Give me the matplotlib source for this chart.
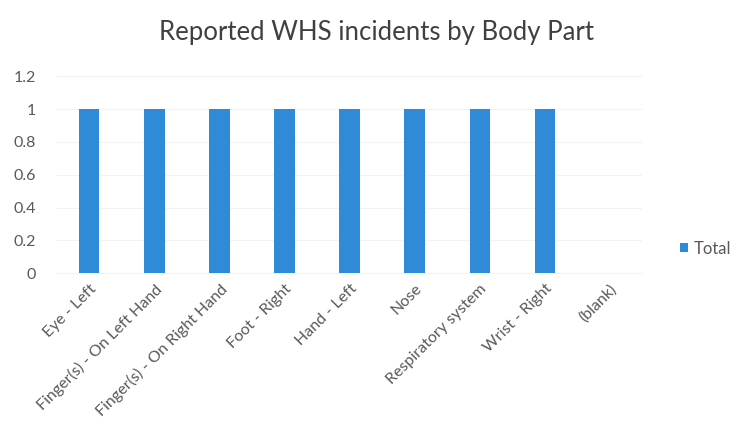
import matplotlib.pyplot as plt
import numpy as np

# Incident counts by body part
body_parts = [
    "Eye - Left",
    "Finger(s) - On Left Hand",
    "Finger(s) - On Right Hand",
    "Foot - Right",
    "Hand - Left",
    "Nose",
    "Respiratory system",
    "Wrist - Right",
    "(blank)",
]
totals = [1, 1, 1, 1, 1, 1, 1, 1, 0]
y_ticks = [0, 0.2, 0.4, 0.6, 0.8, 1, 1.2]
y_tick_labels = ["0", "0.2", "0.4", "0.6", "0.8", "1", "1.2"]

plt.rcParams["font.family"] = ["Lato", "DejaVu Sans"]

fig = plt.figure(figsize=(7.39, 4.48), dpi=100, facecolor="white")
ax = fig.add_axes([0.077, 0.39, 0.792, 0.44])

x = np.arange(len(body_parts))
ax.bar(x, totals, width=0.31, color="#2F8AD8", label="Total", zorder=3)

ax.set_xlim(-0.5, len(body_parts) - 0.5)
ax.set_ylim(0, 1.2)
ax.set_yticks(y_ticks)
ax.set_yticklabels(y_tick_labels)
ax.set_xticks(x)
ax.set_xticklabels(body_parts, rotation=45, ha="right", rotation_mode="anchor")

ax.tick_params(axis="both", length=0, colors="#595959", labelsize=11.5)
ax.tick_params(axis="y", pad=15)
ax.tick_params(axis="x", pad=6)
ax.grid(True, axis="y", color="#f2f2f2", linewidth=0.8, zorder=0)
for side in ["top", "right", "left"]:
    ax.spines[side].set_visible(False)
ax.spines["bottom"].set_color("#f2f2f2")

fig.suptitle("Reported WHS incidents by Body Part", x=0.51, y=0.955,
             fontsize=18.5, color="#404040")

fig.legend(loc="center left", bbox_to_anchor=(0.9, 0.445), frameon=False,
           handlelength=0.45, handleheight=0.45, handletextpad=0.35,
           fontsize=12, labelcolor="#595959")

fig.savefig("out.png", dpi=100, facecolor="white")
